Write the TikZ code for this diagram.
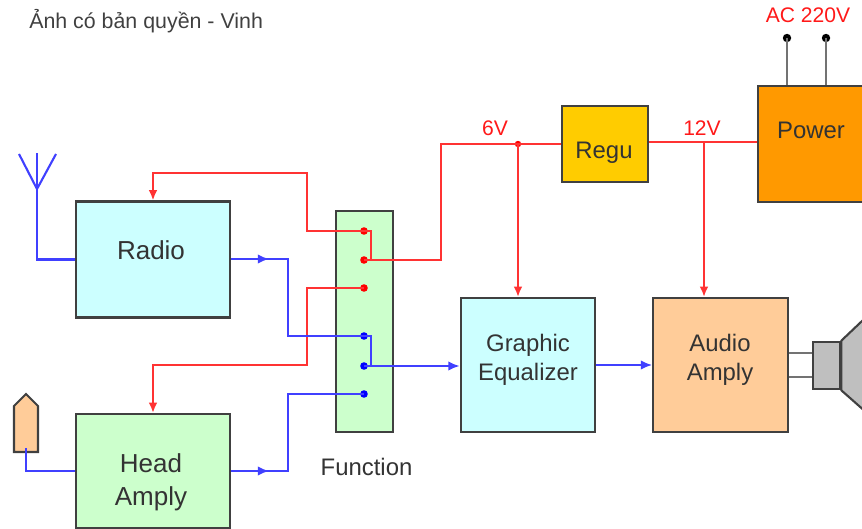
\documentclass[tikz,border=0pt]{standalone}
\usepackage{fontspec}
\setmainfont{Liberation Sans}
\usepackage{xcolor}
\usetikzlibrary{arrows.meta,positioning,calc}
\definecolor{boxline}{HTML}{404040}
\definecolor{cyanfill}{HTML}{CCFFFF}
\definecolor{greenfill}{HTML}{CCFFCC}
\definecolor{peachfill}{HTML}{FFCC99}
\definecolor{regufill}{HTML}{FFCC00}
\definecolor{powerfill}{HTML}{FF9900}
\tikzset{
  block/.style={draw=boxline, line width=1.5pt, inner sep=0pt},
  blocktext/.style={align=center, inner sep=0pt, font=\fontsize{17}{20.6}\selectfont, text=black!80},
  bigtext/.style={align=center, inner sep=0pt, font=\fontsize{18.5}{23.5}\selectfont, text=black!80},
  volt/.style={text=red!90, inner sep=0pt, font=\fontsize{15}{18}\selectfont},
  dot/.style={circle, fill=#1, inner sep=0pt, minimum size=1.9mm},
  redwire/.style={draw=red!80, line width=1.4pt},
  bluewire/.style={draw=blue!75, line width=1.5pt},
  redarrow/.style={redwire, -{Latex[length=2.6mm,width=2.2mm]}},
  bluearrow/.style={bluewire, -{Latex[length=2.8mm,width=2.4mm]}},
  graywire/.style={draw=black!55, line width=2pt},
}

\begin{document}
\begin{tikzpicture}[x=0.25mm,y=-0.25mm]
  \useasboundingbox (0,0) rectangle (862,529);
  % Caption
  \node[anchor=west, inner sep=0pt, text=black!75, font=\fontsize{15.2}{18}\selectfont] (caption) at (29,21) {Ảnh có bản quyền - Vinh};
  % Blocks
  \node[block, fill=cyanfill, minimum width=38.5mm, minimum height=29mm] (radio) at (153,259.5) {};
  \node[block, fill=greenfill, minimum width=38.5mm, minimum height=28.5mm] (head) at (153,471) {};
  \node[block, fill=greenfill, minimum width=14.4mm, minimum height=55.3mm] (func) at (364.5,321.5) {};
  \node[block, fill=cyanfill, minimum width=33.7mm, minimum height=33.5mm] (eq) at (528,365) {};
  \node[block, fill=peachfill, minimum width=33.7mm, minimum height=33.5mm] (audio) at (720.5,365) {};
  \node[block, fill=regufill, minimum width=21.5mm, minimum height=19mm] (regu) at (605,144) {};
  \node[block, fill=powerfill, minimum width=26.5mm, minimum height=29mm] (power) at (811,144) {};
  % Labels
  \node[bigtext] (radiotext) at (151,250) {Radio};
  \node[bigtext] (headtext) at (151,482) {Head\\Amply};
  \node[blocktext] (eqtext) at (528,360) {Graphic\\Equalizer};
  \node[blocktext] (audiotext) at (720,360) {Audio\\Amply};
  \node[blocktext] (regutext) at (604,153) {Regu};
  \node[blocktext] (powertext) at (811,130) {Power};
  \node[blocktext] (functext) at (366.5,467) {Function};
  \node[volt] (v6) at (495,128) {6V};
  \node[volt] (v12) at (702,128) {12V};
  \node[volt] (ac) at (808,15) {AC 220V};
  % Switch contacts
  \node[dot=red] (r1) at (364,231) {};
  \node[dot=red] (r2) at (364,260) {};
  \node[dot=red] (r3) at (364,288) {};
  \node[dot=blue] (b1) at (364,336) {};
  \node[dot=blue] (b2) at (364,366) {};
  \node[dot=blue] (b3) at (364,394) {};
  \node[dot=red, minimum size=1.6mm] (join6) at (518,144) {};
  % Red supply lines
  \draw[redarrow] (r1.center) -| (307,173) -| (radio.north);
  \draw[redarrow] (r3.center) -| (307,365) -| (head.north);
  \draw[redwire] (r1.center) -| (371,260) -- (r2.center);
  \draw[redwire] (r2.center) -| (441,144) -- (regu.west |- join6);
  \draw[redarrow] (join6.center) -- (join6 |- eq.north);
  \draw[redwire] (regu.east |- 0,142) -- (power.west |- 0,142);
  \draw[redarrow] (704,142) -- (704,142 |- audio.north);
  % Blue signal lines
  \coordinate (radioout) at (269,259);
  \coordinate (headout) at (269,471);
  \draw[bluewire] (radio.east |- radioout) -| (288,336) -- (b1.center);
  \draw[bluearrow] (radio.east |- radioout) -- (radioout);
  \draw[bluewire] (head.east) -| (288,394) -- (b3.center);
  \draw[bluearrow] (head.east) -- (headout);
  \draw[bluewire] (b1.center) -| (371,366) -- (b2.center);
  \draw[bluearrow] (b2.center) -- (eq.west |- b2);
  \draw[bluearrow] (eq.east) -- (audio.west);
  % Antenna
  \coordinate (antfoot) at (37,189);
  \draw[bluewire] (radio.west) -| (antfoot) -- (37,153);
  \draw[bluewire] (19,154) -- (antfoot) -- (56,154);
  % Pickup
  \draw[block, fill=peachfill] (26,394) -- (38,406) -- (38,452) -- (14,452) -- (14,406) -- cycle;
  \coordinate (pickup) at (26,448);
  \draw[bluewire] (pickup) |- (head.west);
  % Speaker
  \node[block, fill=black!25, minimum width=6.9mm, minimum height=11.9mm] (spk) at (826.5,365.5) {};
  \draw[block, fill=black!25] (spk.north east) -- ++(40,-38) -- ++(0,123) -- (spk.south east) -- cycle;
  \draw[graywire] (audio.east |- 0,353) -- (spk.west |- 0,353);
  \draw[graywire] (audio.east |- 0,377) -- (spk.west |- 0,377);
  % Mains plug
  \node[dot=black, minimum size=2.1mm] (p1) at (787,38) {};
  \node[dot=black, minimum size=2.1mm] (p2) at (826,38) {};
  \draw[graywire] (p1.center) -- (p1 |- power.north);
  \draw[graywire] (p2.center) -- (p2 |- power.north);
\end{tikzpicture}
\end{document}
